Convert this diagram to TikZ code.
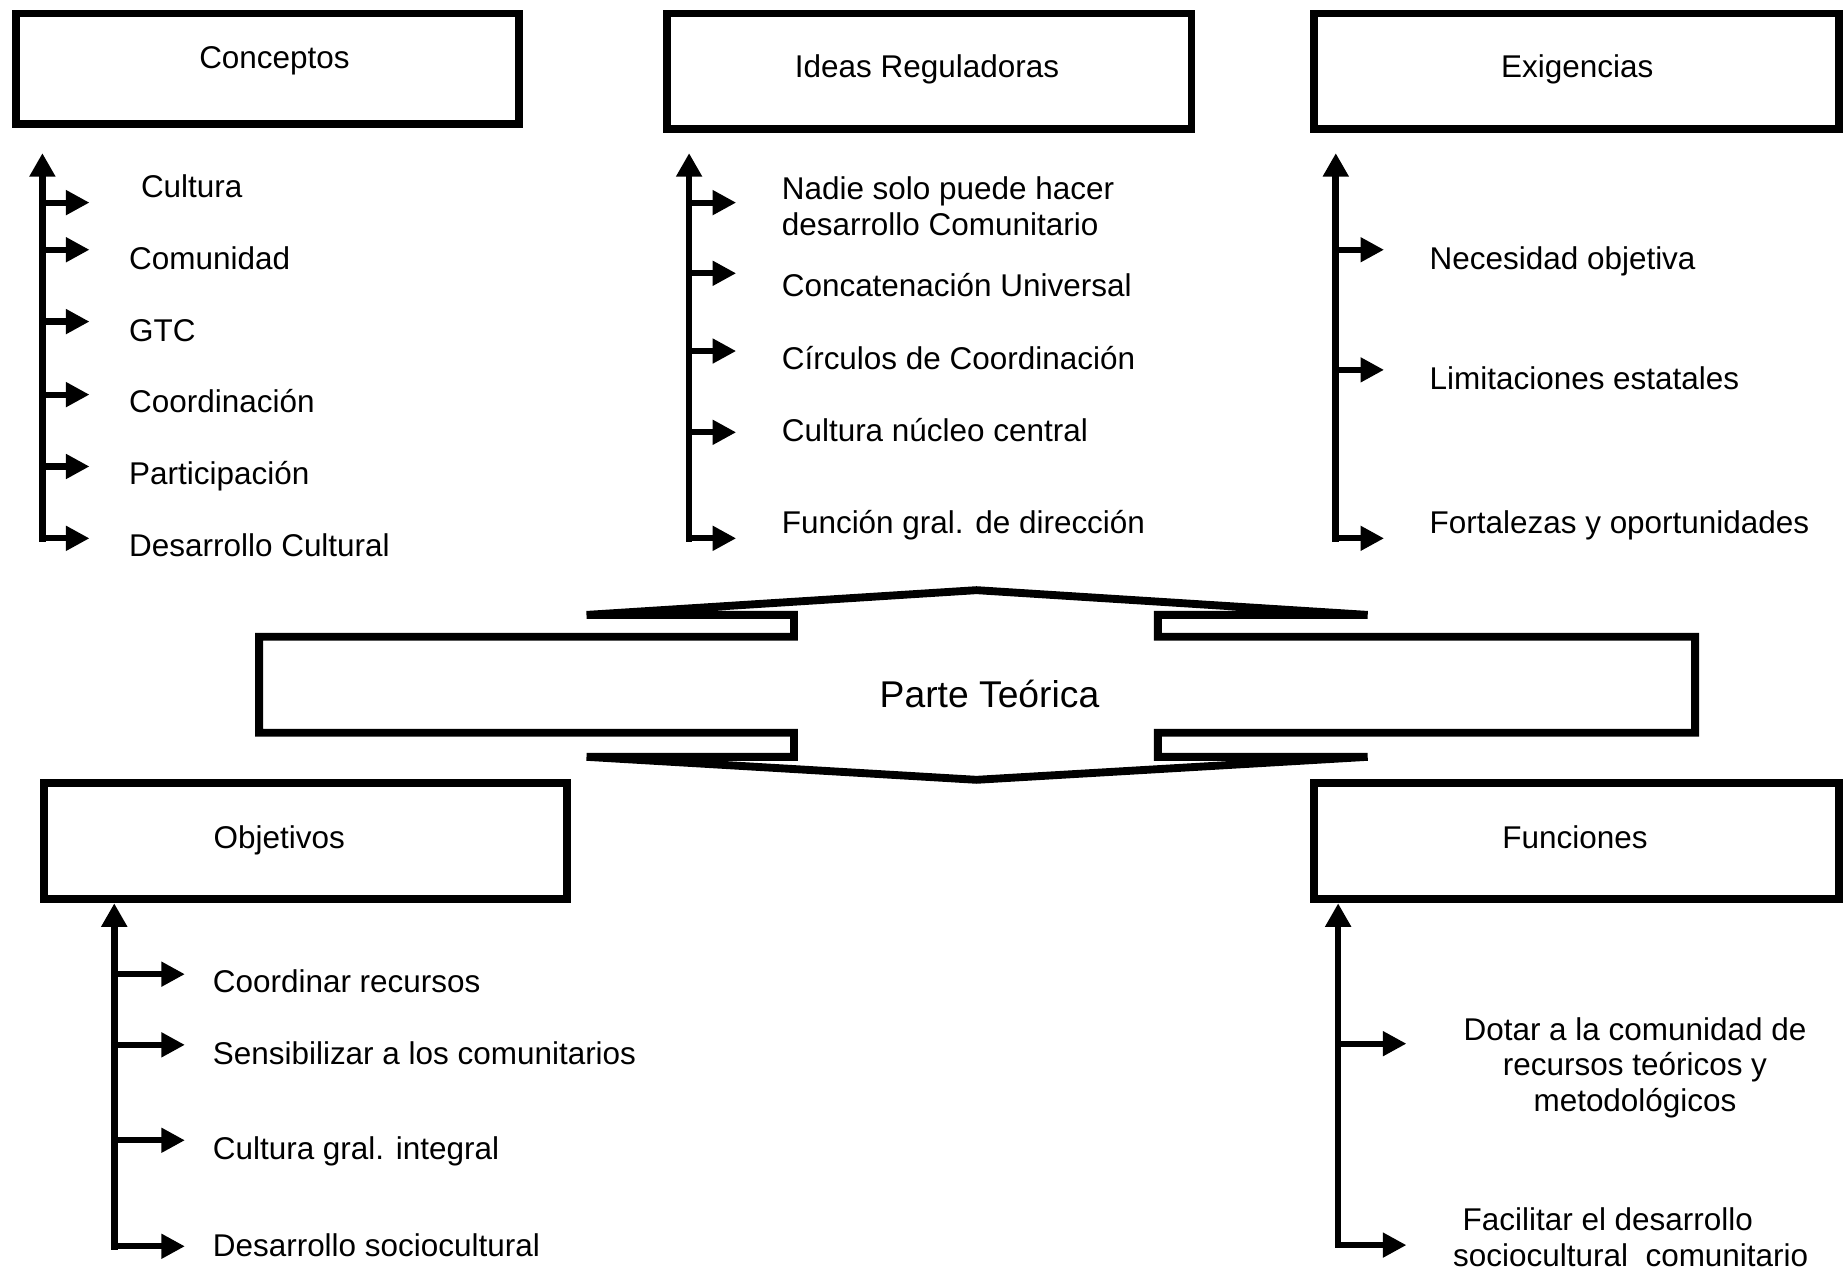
\documentclass[tikz,border=0pt]{standalone}
\usepackage{fontspec}
\setmainfont{Liberation Sans}
\usetikzlibrary{arrows.meta}

\tikzset{
  box/.style={draw, line width=1.9pt, inner sep=0pt},
  title/.style={inner sep=0pt, text height=0.19cm, text depth=0pt, font=\fontsize{7.6}{8.6}\selectfont},
  item/.style={anchor=west, inner sep=0pt, text height=0.19cm, text depth=0pt, font=\fontsize{7.6}{8.6}\selectfont},
  items/.style={anchor=west, inner sep=0pt, font=\fontsize{7.6}{8.6}\selectfont},
  spine/.style={-{Triangle[length=0.2cm,width=0.21cm]}, line width=1.6pt, line cap=rect},
  branch/.style={-{Triangle[length=0.2cm,width=0.2cm]}, line width=1.5pt, line cap=rect}
}

\begin{document}
\begin{tikzpicture}
  \useasboundingbox (0,0) rectangle (15.68,-10.79);

  % Boxes
  \node[box, minimum width=4.27cm, minimum height=0.94cm] (concepts) at (2.27,-0.585) {};
  \node[box, minimum width=4.45cm, minimum height=0.98cm] (ideas) at (7.89,-0.605) {};
  \node[box, minimum width=4.46cm, minimum height=0.98cm] (demands) at (13.385,-0.605) {};
  \node[box, minimum width=4.44cm, minimum height=0.99cm] (objectives) at (2.595,-7.14) {};
  \node[box, minimum width=4.46cm, minimum height=0.99cm] (functions) at (13.385,-7.14) {};
  \node[title] (conceptsT) at (2.33,-0.49) {Conceptos};
  \node[title] (ideasT) at (7.87,-0.56) {Ideas Reguladoras};
  \node[title] (demandsT) at (13.39,-0.56) {Exigencias};
  \node[title] (objectivesT) at (2.37,-7.11) {Objetivos};
  \node[title] (functionsT) at (13.37,-7.11) {Funciones};

  % Conceptos
  \coordinate (cTop) at (0.36,-1.30);
  \coordinate (cBot) at (0.36,-4.57);
  \draw[spine] (cBot) -- (cTop);
  \foreach \y [count=\i] in {1.72,2.12,2.73,3.35,3.96,4.57} {
    \coordinate (c\i) at (0.36,-\y);
    \coordinate (ct\i) at (0.76,-\y);
    \draw[branch] (c\i) -- (ct\i);
  }
  \node[item] (cult) at (1.19,-1.58) {Cultura};
  \node[item] (comm) at (1.09,-2.19) {Comunidad};
  \node[item] (gtc) at (1.09,-2.80) {GTC};
  \node[item] (coord) at (1.09,-3.41) {Coordinación};
  \node[item] (part) at (1.09,-4.02) {Participación};
  \node[item] (devcult) at (1.09,-4.63) {Desarrollo Cultural};

  % Ideas Reguladoras
  \coordinate (iTop) at (5.85,-1.30);
  \coordinate (iBot) at (5.85,-4.57);
  \draw[spine] (iBot) -- (iTop);
  \foreach \y [count=\i] in {1.72,2.32,2.98,3.67,4.57} {
    \coordinate (i\i) at (5.85,-\y);
    \coordinate (it\i) at (6.25,-\y);
    \draw[branch] (i\i) -- (it\i);
  }
  \node[items, align=left] (nobody) at (6.63,-1.75) {Nadie solo puede hacer\\desarrollo Comunitario};
  \node[item] (concat) at (6.63,-2.42) {Concatenación Universal};
  \node[item] (circles) at (6.63,-3.04) {Círculos de Coordinación};
  \node[item] (core) at (6.63,-3.65) {Cultura núcleo central};
  \node[item] (direct) at (6.63,-4.43) {Función gral. de dirección};

  % Exigencias
  \coordinate (eTop) at (11.34,-1.30);
  \coordinate (eBot) at (11.34,-4.57);
  \draw[spine] (eBot) -- (eTop);
  \foreach \y [count=\i] in {2.12,3.14,4.57} {
    \coordinate (e\i) at (11.34,-\y);
    \coordinate (et\i) at (11.75,-\y);
    \draw[branch] (e\i) -- (et\i);
  }
  \node[item] (need) at (12.13,-2.19) {Necesidad objetiva};
  \node[item] (limits) at (12.13,-3.21) {Limitaciones estatales};
  \node[item] (strength) at (12.13,-4.43) {Fortalezas y oportunidades};

  % Parte Teorica
  \draw[line width=1.9pt] (2.20,-5.405) -- (6.74,-5.405) -- (6.74,-5.22) -- (4.98,-5.22)
    -- (8.29,-5.01) -- (11.61,-5.22) -- (9.83,-5.22) -- (9.83,-5.405) -- (14.39,-5.405)
    -- (14.39,-6.22) -- (9.83,-6.22) -- (9.83,-6.425) -- (11.61,-6.425) -- (8.29,-6.62)
    -- (4.98,-6.425) -- (6.74,-6.425) -- (6.74,-6.22) -- (2.20,-6.22) -- cycle;
  \node[inner sep=0pt, text height=0.23cm, text depth=0pt, font=\fontsize{9}{11}\selectfont] (theory) at (8.40,-5.89) {Parte Teórica};

  % Objetivos
  \coordinate (oBot) at (0.97,-10.58);
  \draw[spine] (oBot) -- (oBot |- objectives.south);
  \foreach \y [count=\i] in {8.27,8.87,9.68,10.58} {
    \coordinate (o\i) at (0.97,-\y);
    \coordinate (ot\i) at (1.57,-\y);
    \draw[branch] (o\i) -- (ot\i);
  }
  \node[item] (resources) at (1.80,-8.33) {Coordinar recursos};
  \node[item] (aware) at (1.80,-8.94) {Sensibilizar a los comunitarios};
  \node[item] (general) at (1.80,-9.75) {Cultura gral. integral};
  \node[item] (sociodev) at (1.80,-10.57) {Desarrollo sociocultural};

  % Funciones
  \coordinate (fBot) at (11.36,-10.57);
  \draw[spine] (fBot) -- (fBot |- functions.south);
  \foreach \y [count=\i] in {8.86,10.57} {
    \coordinate (f\i) at (11.36,-\y);
    \coordinate (ft\i) at (11.94,-\y);
    \draw[branch] (f\i) -- (ft\i);
  }
  \node[items, anchor=center, align=center] (provide) at (13.88,-9.065) {Dotar a la comunidad de\\recursos teóricos y\\metodológicos};
  \node[items, align=left] (ease) at (12.33,-10.505) {\hspace*{0.08cm}Facilitar el desarrollo\\sociocultural\ \ comunitario};
\end{tikzpicture}
\end{document}
